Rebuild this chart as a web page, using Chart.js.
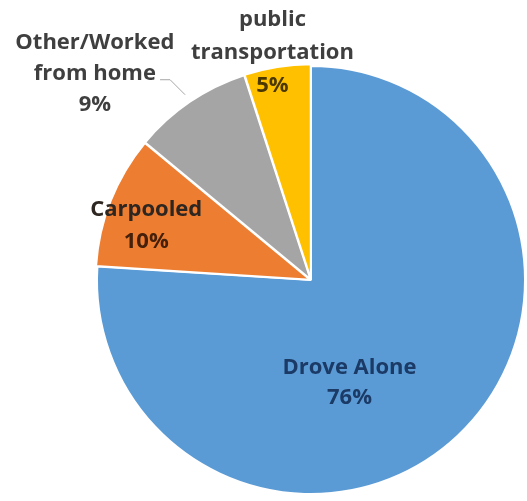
<!DOCTYPE html>
<html>
<head>
<meta charset="utf-8">
<script src="https://cdn.jsdelivr.net/npm/chart.js@4/dist/chart.umd.min.js"></script>
<style>
  html, body { margin: 0; padding: 0; background: #fff; }
  .chart-box { width: 527px; height: 501px; position: relative; }
</style>
</head>
<body>
<div class="chart-box"><canvas id="commuteChart"></canvas></div>
<script>
// 通勤手段の割合
const modes = ['Drove Alone', 'Carpooled', 'Other/Worked from home', 'public transportation'];
const shares = [76, 10, 9, 5];
// ラベルの行分け
const labelLines = [
  ['Drove Alone'],
  ['Carpooled'],
  ['Other/Worked', 'from home'],
  ['public', 'transportation']
];

const sliceColors = ['#5b9bd5', '#ed7d31', '#a5a5a5', '#ffc000'];
const nameColors = ['#1b3a66', '#2e2620', '#3f3f3f', '#3f3f3f'];
const valueColors = ['#1b3a66', '#45200a', '#3f3f3f', '#4a3800'];

// ラベル位置（円の中心からの相対位置、半径比）と行間
const labelPlace = [
  { dx: 0.18, dy: 0.48, gap: 30 },
  { dx: -0.77, dy: -0.255, gap: 32 },
  { dx: -1.01, dy: -0.965, gap: 31 },
  { dx: -0.18, dy: -1.06, gap: 33 }
];

/**
 * 各扇形にラベルを描く
 */
const sliceLabelPlugin = {
  id: 'sliceLabels',
  afterDatasetsDraw(chart) {
    const { ctx } = chart;
    const arcs = chart.getDatasetMeta(0).data;
    ctx.save();
    ctx.font = 'bold 22px "Open Sans", "DejaVu Sans", sans-serif';
    ctx.textAlign = 'center';
    ctx.textBaseline = 'middle';

    arcs.forEach((arc, i) => {
      const r = arc.outerRadius;
      const place = labelPlace[i];
      const lines = labelLines[i].concat([shares[i] + '%']);
      const cx = arc.x + place.dx * r;
      const cy = arc.y + place.dy * r;
      const top = cy - (lines.length - 1) * place.gap / 2;
      lines.forEach((text, j) => {
        ctx.fillStyle = j === lines.length - 1 ? valueColors[i] : nameColors[i];
        ctx.fillText(text, cx, top + j * place.gap);
      });
    });

    // 「from home」から灰色の扇形への引き出し線
    const gray = arcs[2];
    const mid = (gray.startAngle + gray.endAngle) / 2;
    const off = 4 + 6;
    const ex = gray.x + Math.cos(mid) * (gray.outerRadius + off);
    const ey = gray.y + Math.sin(mid) * (gray.outerRadius + off);
    ctx.strokeStyle = '#a6a6a6';
    ctx.lineWidth = 1;
    ctx.beginPath();
    ctx.moveTo(ex - 25, ey - 15);
    ctx.lineTo(ex - 15, ey - 15);
    ctx.lineTo(ex, ey);
    ctx.stroke();
    ctx.restore();
  }
};

document.addEventListener('DOMContentLoaded', function() {
  const ctx = document.getElementById('commuteChart').getContext('2d');

  new Chart(ctx, {
    type: 'pie',
    data: {
      labels: modes,
      datasets: [{
        data: shares,
        backgroundColor: sliceColors,
        borderColor: '#ffffff',
        borderWidth: 2,
        offset: [0, 4, 4, 4]
      }]
    },
    options: {
      responsive: true,
      maintainAspectRatio: false,
      animation: false,
      radius: 214,
      layout: { padding: { left: 95, top: 59, right: 0, bottom: 0 } },
      plugins: {
        legend: { display: false },
        tooltip: { enabled: false }
      }
    },
    plugins: [sliceLabelPlugin]
  });
});
</script>
</body>
</html>
